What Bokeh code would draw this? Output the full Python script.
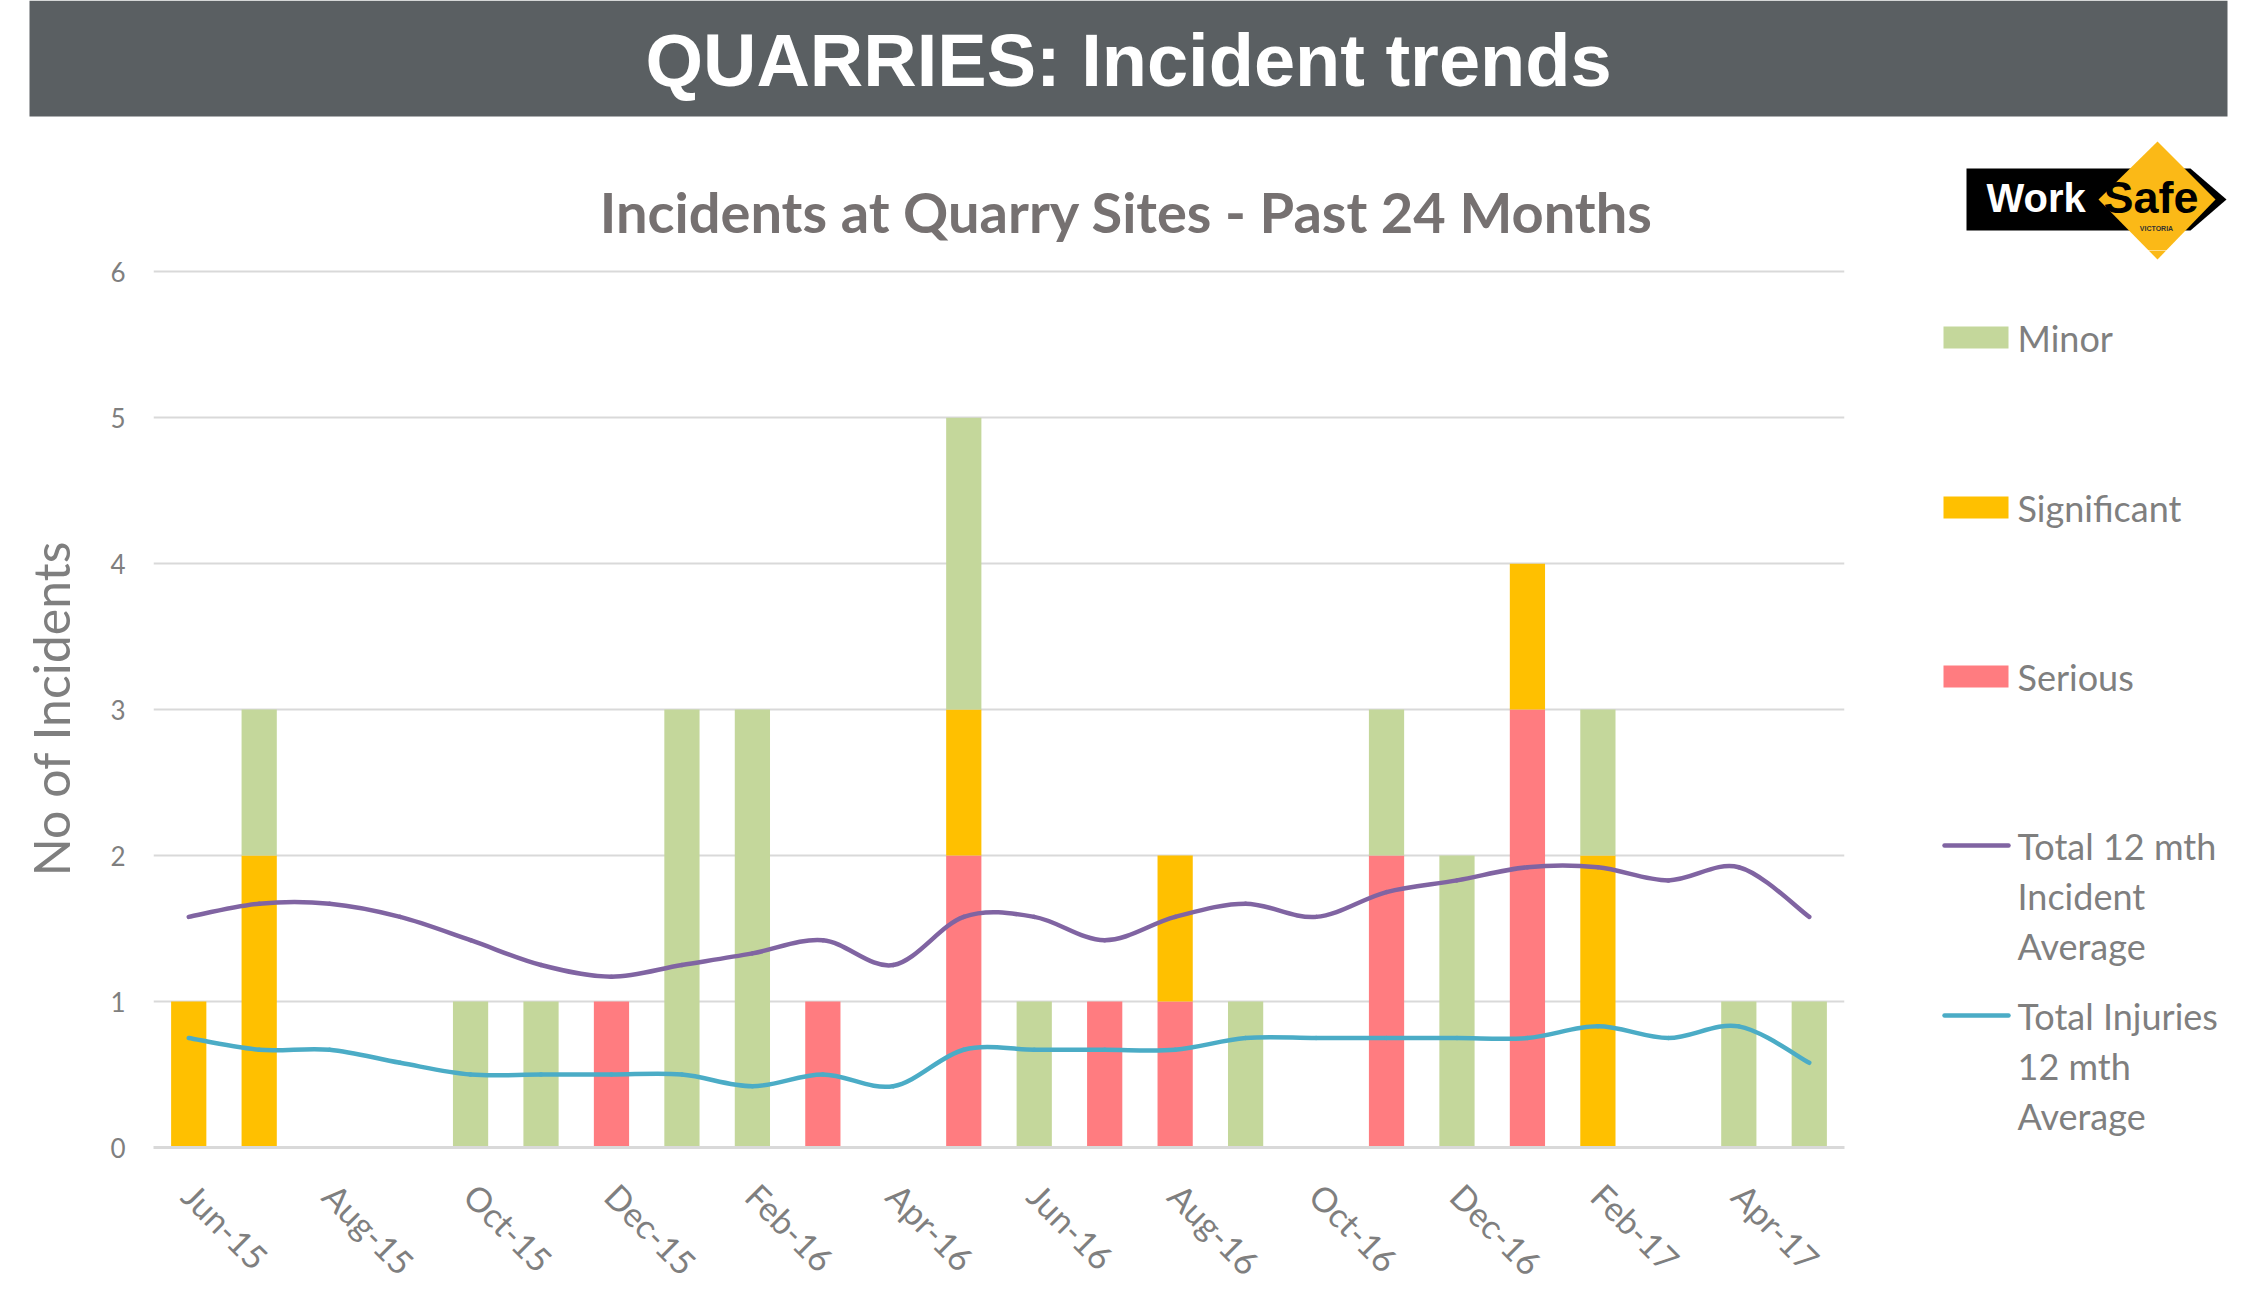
import numpy as np
from bokeh.plotting import figure
from bokeh.layouts import column, row
from bokeh.models import ColumnDataSource, FixedTicker, Range1d
from bokeh.core.properties import value
from bokeh.embed import file_html
from bokeh.resources import INLINE

# ---------------- data ----------------
months = ["Jun-15", "Jul-15", "Aug-15", "Sep-15", "Oct-15", "Nov-15", "Dec-15", "Jan-16",
          "Feb-16", "Mar-16", "Apr-16", "May-16", "Jun-16", "Jul-16", "Aug-16", "Sep-16",
          "Oct-16", "Nov-16", "Dec-16", "Jan-17", "Feb-17", "Mar-17", "Apr-17", "May-17"]
serious     = [0, 0, 0, 0, 0, 0, 1, 0, 0, 1, 0, 2, 0, 1, 1, 0, 0, 2, 0, 3, 0, 0, 0, 0]
significant = [1, 2, 0, 0, 0, 0, 0, 0, 0, 0, 0, 1, 0, 0, 1, 0, 0, 0, 0, 1, 2, 0, 0, 0]
minor       = [0, 1, 0, 0, 1, 1, 0, 3, 3, 0, 0, 2, 1, 0, 0, 1, 0, 1, 2, 0, 1, 0, 1, 1]
incident_avg = [1.58, 1.67, 1.67, 1.58, 1.42, 1.25, 1.17, 1.25, 1.33, 1.42, 1.25, 1.58,
                1.58, 1.42, 1.58, 1.67, 1.58, 1.75, 1.83, 1.92, 1.92, 1.83, 1.92, 1.58]
injury_avg = [0.75, 0.67, 0.67, 0.58, 0.50, 0.50, 0.50, 0.50, 0.42, 0.50, 0.42, 0.67,
              0.67, 0.67, 0.67, 0.75, 0.75, 0.75, 0.75, 0.75, 0.83, 0.75, 0.83, 0.58]
tick_months = months[::2]
y_ticks = [0, 1, 2, 3, 4, 5, 6]
series_names = ["Minor", "Significant", "Serious"]
line_names = [["Total 12 mth", "Incident", "Average"], ["Total Injuries", "12 mth", "Average"]]
main_title = "QUARRIES: Incident trends"
chart_title = "Incidents at Quarry Sites - Past 24 Months"

# ---------------- styles ----------------
C_MINOR, C_SIG, C_SER = "#C4D79B", "#FFC000", "#FF7C80"
C_PURPLE, C_TEAL = "#8064A2", "#4BACC6"
GREY_TXT = "#7F7F7F"
FONT = "Lato"

TOTAL_W, TOTAL_H = 2260, 1300
HEAD_H = 250
TIP_H = 12
MAIN_W = 1880
FRAME_L, FRAME_R, FRAME_T, FRAME_B = 153, 1844, 269, 1151


def deco_fig(x0, x1, y0, y1):
    f = figure(width=x1 - x0, height=y1 - y0,
               x_range=Range1d(x0, x1), y_range=Range1d(y1, y0),
               output_backend="svg", toolbar_location=None,
               x_axis_location=None, y_axis_location=None,
               min_border=0, min_border_left=0, min_border_right=0,
               min_border_top=0, min_border_bottom=0)
    f.grid.visible = False
    f.outline_line_color = None
    f.background_fill_color = "white"
    f.border_fill_color = "white"
    return f


def draw_logo(f):
    f.patch(x=[1966, 2190, 2226, 2190, 1966], y=[168, 168, 199, 230, 230],
            fill_color="black", line_color=None)
    f.patch(x=[2157, 2215, 2157, 2098], y=[141, 199, 259, 199],
            fill_color="#FBB917", line_color=None)


# ---------------- header: banner, chart title, logo ----------------
head = deco_fig(0, TOTAL_W, 0, HEAD_H)
head.quad(left=[29], right=[2227], top=[0], bottom=[116], fill_color="#5A5F62", line_color=None)
head.text(x=[1128], y=[60], text=[main_title], text_align="center", text_baseline="middle",
          text_font=value("Liberation Sans"), text_font_style="bold", text_font_size="74px",
          text_color="white")
head.text(x=[1126], y=[211], text=[chart_title], text_align="center", text_baseline="middle",
          text_font=value(FONT), text_font_style="bold", text_font_size="56px",
          text_color="#767171")
draw_logo(head)
head.text(x=[1986], y=[197], text=["Work"], text_baseline="middle",
          text_font=value("Liberation Sans"), text_font_style="bold", text_font_size="40px",
          text_color="white")
head.text(x=[2103], y=[197], text=["Safe"], text_baseline="middle",
          text_font=value("Liberation Sans"), text_font_style="bold", text_font_size="45px",
          text_color="black")
head.text(x=[2156], y=[228], text=["VICTORIA"], text_align="center", text_baseline="middle",
          text_font=value("Liberation Sans"), text_font_style="bold", text_font_size="7px",
          text_color="#333333")

# ---------------- main chart ----------------
main_h = TOTAL_H - HEAD_H
p = figure(width=MAIN_W, height=main_h, output_backend="svg", toolbar_location=None,
           x_range=(-0.5, len(months) - 0.5), y_range=(0, 6.015),
           min_border_left=FRAME_L, min_border_right=MAIN_W - FRAME_R,
           min_border_top=FRAME_T - HEAD_H, min_border_bottom=TOTAL_H - FRAME_B)
p.outline_line_color = None
p.background_fill_color = "white"
p.border_fill_color = "white"

xs = list(range(len(months)))
src = ColumnDataSource(dict(x=xs, month=months, serious=serious,
                            significant=significant, minor=minor))
p.vbar_stack(["serious", "significant", "minor"], x="x", width=0.5, source=src,
             fill_color=[C_SER, C_SIG, C_MINOR], line_color=None)


def smooth(vals):
    x = np.array(xs, dtype=float)
    y = np.array(vals, dtype=float)
    xp = np.concatenate([[x[0]], x, [x[-1]]])
    yp = np.concatenate([[y[0]], y, [y[-1]]])
    i = np.arange(len(x) - 1)
    x0, y0 = xp[i + 1], yp[i + 1]
    x1, y1 = xp[i + 2], yp[i + 2]
    return dict(x0=x0, y0=y0, x1=x1, y1=y1,
                cx0=x0 + (x1 - xp[i]) / 6.0, cy0=y0 + (y1 - yp[i]) / 6.0,
                cx1=x1 - (xp[i + 3] - x0) / 6.0, cy1=y1 - (yp[i + 3] - y0) / 6.0)


for vals, col in [(incident_avg, C_PURPLE), (injury_avg, C_TEAL)]:
    s = ColumnDataSource(smooth(vals))
    p.bezier(x0="x0", y0="y0", x1="x1", y1="y1", cx0="cx0", cy0="cy0", cx1="cx1", cy1="cy1",
             source=s, line_color=col, line_width=4.5, line_cap="round")

p.xgrid.visible = False
p.ygrid.grid_line_color = "#D9D9D9"
p.ygrid.grid_line_width = 2
p.yaxis.ticker = FixedTicker(ticks=y_ticks)
p.yaxis.axis_line_color = None
p.yaxis.major_tick_line_color = None
p.yaxis.minor_tick_line_color = None
p.yaxis.major_tick_in = 0
p.yaxis.major_tick_out = 0
p.yaxis.major_label_standoff = 28
p.yaxis.major_label_text_font = FONT
p.yaxis.major_label_text_font_size = "26px"
p.yaxis.major_label_text_color = GREY_TXT
p.yaxis.axis_label = "No of Incidents"
p.yaxis.axis_label_text_font = FONT
p.yaxis.axis_label_text_font_style = "normal"
p.yaxis.axis_label_text_font_size = "50px"
p.yaxis.axis_label_text_color = GREY_TXT
p.yaxis.axis_label_standoff = 26

p.xaxis.ticker = FixedTicker(ticks=xs[::2])
p.xaxis.major_label_overrides = {i: m for i, m in zip(xs[::2], tick_months)}
p.xaxis.axis_line_color = "#D9D9D9"
p.xaxis.axis_line_width = 3
p.xaxis.major_tick_line_color = None
p.xaxis.minor_tick_line_color = None
p.xaxis.major_tick_in = 0
p.xaxis.major_tick_out = 0
p.xaxis.major_label_orientation = -np.pi / 4
p.xaxis.major_label_standoff = 42
p.xaxis.major_label_text_font = FONT
p.xaxis.major_label_text_font_size = "34px"
p.xaxis.major_label_text_color = GREY_TXT

# ---------------- right column: logo tip + legend ----------------
tip = deco_fig(MAIN_W, TOTAL_W, HEAD_H, HEAD_H + TIP_H)
draw_logo(tip)

side = deco_fig(MAIN_W, TOTAL_W, HEAD_H + TIP_H, TOTAL_H)
rows = [337, 507, 676, 845, 1015]
side.quad(left=[1943] * 3, right=[2008] * 3, top=[r - 11 for r in rows[:3]],
          bottom=[r + 11 for r in rows[:3]], fill_color=[C_MINOR, C_SIG, C_SER], line_color=None)
side.text(x=[2017] * 3, y=rows[:3], text=series_names, text_baseline="middle",
          text_font=value(FONT), text_font_size="36px", text_color=GREY_TXT)
side.segment(x0=[1944] * 2, y0=rows[3:], x1=[2008] * 2, y1=rows[3:],
             line_color=[C_PURPLE, C_TEAL], line_width=4.5, line_cap="round")
for lines, cy in zip(line_names, rows[3:]):
    side.text(x=[2017] * len(lines), y=[cy + 50 * k for k in range(len(lines))], text=lines,
              text_baseline="middle", text_font=value(FONT), text_font_size="36px",
              text_color=GREY_TXT)

layout = column(head, row(p, column(tip, side, spacing=0), spacing=0), spacing=0)
open("out.html", "w").write(file_html(layout, INLINE))
